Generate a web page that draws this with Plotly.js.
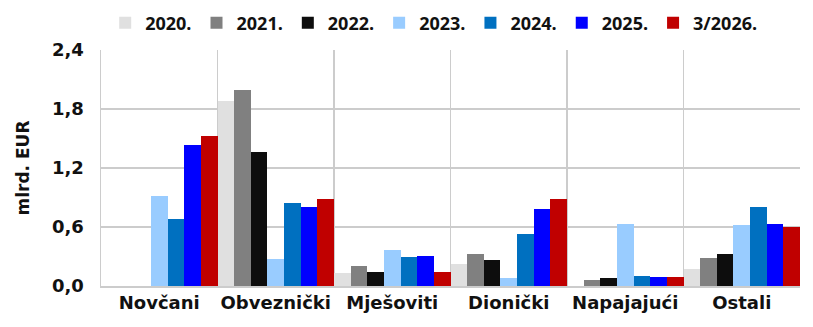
<!DOCTYPE html>
<html>
<head>
<meta charset="utf-8">
<script src="https://cdn.plot.ly/plotly-3.0.1.min.js"></script>
<style>html,body{margin:0;padding:0;background:#fff}#chart{width:813px;height:327px}</style>
</head>
<body>
<div id="chart"></div>
<script>
const categories = ["Novčani", "Obveznički", "Mješoviti", "Dionički", "Napajajući", "Ostali"];
const seriesNames = ["2020.", "2021.", "2022.", "2023.", "2024.", "2025.", "3/2026."];
const v2020 = [0, 1.88, 0.135, 0.22, 0.005, 0.175];
const v2021 = [0, 1.99, 0.20, 0.325, 0.06, 0.285];
const v2022 = [0, 1.36, 0.145, 0.265, 0.08, 0.33];
const v2023 = [0.92, 0.275, 0.37, 0.08, 0.635, 0.625];
const v2024 = [0.68, 0.845, 0.295, 0.53, 0.105, 0.80];
const v2025 = [1.43, 0.805, 0.31, 0.785, 0.09, 0.635];
const v2026 = [1.525, 0.88, 0.145, 0.88, 0.09, 0.605];
const colors = ["#e0e0e0", "#808080", "#0d0d0d", "#99ccff", "#0070c0", "#0000ff", "#c00000"];
const seriesValues = [v2020, v2021, v2022, v2023, v2024, v2025, v2026];

const FONT = "DejaVu Sans, Open Sans, sans-serif";
const LFONT = "Open Sans, DejaVu Sans, sans-serif";
const tf = (s, f) => ({family: f || FONT, size: s, color: "#111", weight: 700});
const traces = seriesNames.map((n, i) => ({
  type: "bar", name: n, x: categories, y: seriesValues[i],
  marker: {color: colors[i], line: {width: 0}}
}));

const layout = {
  width: 813, height: 327,
  margin: {l: 101, r: 13, t: 50, b: 41, autoexpand: false},
  barmode: "group", bargap: 0, bargroupgap: 0,
  separators: ",.",
  paper_bgcolor: "#fff", plot_bgcolor: "#fff",
  font: tf(17),
  showlegend: true,
  legend: {orientation: "h", x: 0.006, xanchor: "left", y: 1.114, yanchor: "middle",
           font: tf(18, LFONT), itemwidth: 30,
           traceorder: "normal", itemclick: false},
  xaxis: {type: "category", tickson: "boundaries", showgrid: true, gridcolor: "#cccccc", gridwidth: 1.5,
          ticks: "", showline: true, linecolor: "#cccccc", linewidth: 1.5, mirror: false,
          tickangle: 0, tickfont: tf(18)},
  yaxis: {range: [0, 2.4], dtick: 0.6, tickformat: ".1f", showgrid: true, gridcolor: "#cccccc", gridwidth: 1.5,
          showline: true, linecolor: "#cccccc", linewidth: 1.5, zeroline: false, ticks: "",
          ticklabelstandoff: 12,
          tickfont: tf(18),
          title: {text: "mlrd. EUR", standoff: 18, font: tf(17)}}
};
Plotly.newPlot("chart", traces, layout, {displayModeBar: false, staticPlot: true});
</script>
</body>
</html>
